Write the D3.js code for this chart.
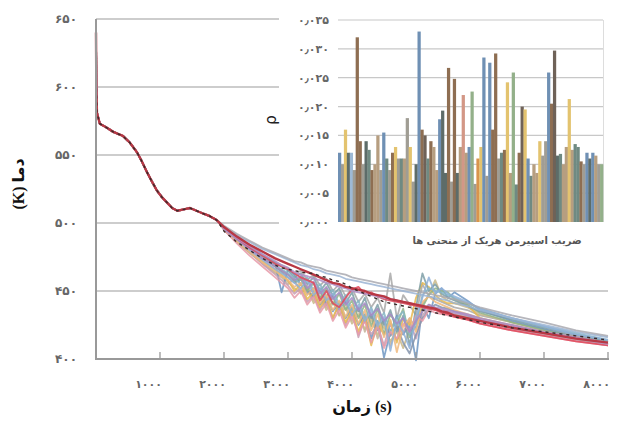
<!DOCTYPE html>
<html>
<head>
<meta charset="utf-8">
<script src="https://cdn.jsdelivr.net/npm/d3@7"></script>
<style>
  body { margin: 0; background: #fff; }
  svg { display: block; }
</style>
</head>
<body>
<div id="chart"></div>
<script>
// common part of all curves (s, K)
const headTime = [0, 5, 15, 60, 170, 270, 420, 530, 640, 720, 800, 880, 950, 1030, 1110, 1190, 1270, 1370, 1470, 1570, 1670, 1780, 1890];
const headTemp = [640, 600, 581, 573, 570, 567, 564, 559, 552, 545, 537, 530, 524, 519, 515, 511, 509, 510, 511, 509, 507, 505, 502];

// after 2000 s the curves split
const tailTime = [2000, 2200, 2400, 2600, 2800, 2900, 3000, 3100, 3200, 3300, 3400, 3500, 3600, 3700, 3800, 3900,
  4000, 4100, 4200, 4300, 4400, 4500, 4600, 4700, 4800, 4900, 5000, 5100, 5200, 5300, 5400, 5500, 5600, 5800,
  6000, 6500, 7000, 7500, 8000];

const redMain    = [497, 490, 484, 479, 474, 472, 470, 468, 466, 464, 462, 460, 458, 456, 455, 453, 452, 451, 450, 448, 447, 446, 444, 443, 442, 441, 440, 439, 438, 437, 435, 434, 432, 430, 428, 423, 419, 415, 412];
const dashedRef  = [494, 486, 480, 474, 469, 467, 466, 465, 464, 463, 463, 461, 460, 458, 457, 455, 452, 450, 448, 446, 444, 442, 441, 440, 439, 438, 437, 436, 435, 434, 433, 432, 431, 429, 427, 423, 420, 417, 414];
const grayUpper  = [498, 492, 487, 482, 478, 476, 474, 472, 471, 469, 468, 467, 465, 464, 463, 462, 460, 459, 458, 457, 456, 455, 454, 453, 452, 451, 450, 449, 448, 447, 446, 445, 444, 441, 438, 432, 427, 421, 417];
const blueUpper  = [497, 491, 486, 481, 477, 475, 473, 471, 469, 468, 466, 465, 463, 462, 461, 459, 458, 457, 456, 455, 454, 453, 452, 451, 450, 449, 448, 447, 446, 445, 444, 443, 441, 439, 436, 430, 425, 420, 416];
const purpleMid  = [496, 489, 483, 477, 472, 469, 467, 464, 462, 461, 459, 458, 456, 455, 453, 452, 450, 449, 448, 447, 446, 445, 444, 443, 442, 441, 440, 439, 438, 437, 436, 435, 434, 432, 429, 424, 419, 415, 411];
const blueNoisy  = [496, 488, 481, 474, 470, 449, 466, 462, 455, 448, 452, 440, 446, 435, 442, 430, 438, 425, 433, 415, 428, 401, 420, 432, 418, 425, 399, 440, 430, 448, 452, 445, 449, 443, 436, 428, 422, 416, 411];
const yellowNoisy= [496, 487, 480, 472, 466, 462, 458, 450, 455, 444, 449, 438, 445, 430, 441, 427, 436, 420, 432, 410, 426, 418, 428, 412, 430, 425, 445, 456, 453, 447, 443, 441, 441, 440, 430, 424, 419, 415, 411];
const tanNoisy   = [495, 486, 478, 470, 463, 460, 455, 459, 448, 454, 443, 450, 438, 446, 432, 441, 428, 437, 420, 432, 415, 428, 410, 425, 418, 430, 422, 435, 440, 437, 436, 435, 433, 431, 428, 423, 418, 414, 410];
const greenNoisy = [496, 489, 482, 475, 468, 465, 462, 457, 460, 450, 456, 445, 452, 440, 448, 436, 443, 430, 440, 424, 437, 418, 433, 425, 437, 416, 430, 438, 447, 452, 450, 449, 444, 440, 434, 427, 421, 416, 412];
const tealNoisy  = [497, 490, 483, 477, 471, 468, 465, 460, 463, 455, 460, 450, 456, 447, 452, 441, 449, 435, 445, 430, 440, 425, 436, 420, 432, 410, 438, 463, 450, 455, 448, 445, 443, 439, 435, 429, 423, 418, 413];
const redWiggly  = [497, 489, 482, 476, 470, 468, 466, 463, 460, 458, 456, 443, 450, 441, 438, 445, 451, 453, 448, 449, 446, 444, 443, 442, 441, 440, 439, 438, 437, 436, 434, 433, 431, 429, 426, 421, 417, 413, 410];
const pinkNoisy  = [495, 485, 476, 468, 460, 456, 452, 445, 450, 440, 446, 434, 441, 428, 436, 423, 432, 418, 428, 412, 424, 408, 420, 415, 426, 420, 432, 428, 436, 434, 433, 432, 431, 429, 426, 421, 417, 413, 410];
const orangeNoisy= [496, 487, 479, 471, 465, 461, 458, 453, 456, 447, 452, 441, 447, 436, 443, 431, 440, 426, 436, 421, 433, 416, 429, 405, 424, 430, 420, 442, 446, 442, 440, 438, 436, 433, 430, 425, 420, 416, 412];
const skyNoisy   = [496, 488, 480, 473, 466, 463, 460, 456, 452, 458, 447, 452, 443, 448, 437, 444, 432, 440, 428, 436, 424, 431, 406, 428, 420, 408, 430, 445, 460, 448, 452, 448, 446, 442, 437, 430, 424, 418, 414];
const lilacNoisy = [496, 488, 481, 474, 468, 465, 462, 458, 461, 452, 457, 448, 453, 444, 449, 440, 445, 436, 441, 432, 437, 428, 433, 426, 430, 420, 428, 435, 440, 438, 437, 436, 435, 433, 430, 425, 420, 416, 412];
const grayNoisy  = [496, 489, 482, 476, 471, 469, 467, 462, 465, 458, 462, 454, 459, 450, 455, 446, 452, 442, 448, 438, 445, 434, 463, 430, 447, 440, 432, 455, 446, 444, 442, 440, 438, 436, 432, 427, 422, 417, 413];
const mauveNoisy = [496, 487, 479, 470, 462, 458, 454, 448, 452, 442, 447, 436, 444, 430, 440, 425, 436, 416, 430, 418, 425, 410, 426, 414, 420, 428, 415, 432, 438, 436, 435, 434, 432, 430, 427, 422, 418, 414, 410];
const cyanNoisy  = [497, 489, 482, 475, 469, 466, 463, 459, 455, 460, 450, 455, 446, 451, 440, 447, 436, 443, 430, 438, 426, 434, 420, 430, 435, 418, 424, 447, 452, 450, 449, 447, 445, 441, 437, 430, 424, 419, 414];
const khakiNoisy = [495, 486, 478, 471, 464, 461, 457, 452, 449, 452, 441, 446, 436, 442, 432, 438, 426, 433, 422, 429, 418, 424, 413, 420, 408, 422, 426, 440, 447, 458, 446, 443, 441, 438, 433, 427, 421, 416, 412];
const slateNoisy = [496, 488, 481, 474, 468, 464, 460, 456, 459, 450, 446, 452, 440, 447, 436, 443, 432, 438, 427, 433, 421, 429, 417, 424, 412, 404, 418, 430, 436, 440, 438, 437, 435, 432, 429, 424, 419, 415, 411];

const xTicks = [1000, 2000, 3000, 4000, 5000, 6000, 7000, 8000];
const yTicks = [400, 450, 500, 550, 600, 650];

// inset: Spearman coefficient of each curve
const rhoValues = [0.012, 0.010, 0.016, 0.012, 0.012, 0.009, 0.032, 0.014, 0.010, 0.014,
  0.0125, 0.009, 0.010, 0.015, 0.009, 0.0155, 0.011, 0.009, 0.012, 0.013,
  0.011, 0.011, 0.011, 0.018, 0.013, 0.007, 0.010, 0.033, 0.016, 0.015,
  0.011, 0.014, 0.013, 0.009, 0.0178, 0.0193, 0.0085, 0.0267, 0.007, 0.0248,
  0.0085, 0.013, 0.022, 0.012, 0.013, 0.0226, 0.0066, 0.011, 0.013, 0.0285,
  0.008, 0.0276, 0.016, 0.0292, 0.011, 0.012, 0.0125, 0.0242, 0.0085, 0.0259,
  0.0065, 0.012, 0.020, 0.0195, 0.011, 0.008, 0.010, 0.0085, 0.014, 0.0115,
  0.014, 0.0259, 0.0205, 0.0297, 0.0115, 0.0118, 0.010, 0.013, 0.0213, 0.0125,
  0.0135, 0.013, 0.0105, 0.010, 0.012, 0.011, 0.012, 0.0115, 0.010, 0.010];
const rhoTicks = [0, 0.005, 0.010, 0.015, 0.020, 0.025, 0.030, 0.035];
const barShade = "bgyslgnngsenttgbegnygetgygsbnkenttbssngnstptbrgoybgbnngenytrenkybettyggbnksettyteengbsbtgr";

const shades = {
  b: "#6f90b4", g: "#a09d94", y: "#e3c36f", s: "#5d6c69", l: "#9db9d6", n: "#8e6e52",
  t: "#b69e80", e: "#6f8a82", k: "#6f6258", p: "#d39786", r: "#93b08a", o: "#d9944c"
};

const fa = s => String(s).replace(/\d/g, d => "۰۱۲۳۴۵۶۷۸۹"[d]);

const W = 631, H = 432;
const svg = d3.select("#chart").append("svg").attr("width", W).attr("height", H);

// main scales
const x = d3.scaleLinear().domain([0, 8000]).range([96, 608]);
const y = d3.scaleLinear().domain([400, 650]).range([359, 19]);

// gridlines
svg.append("g").selectAll("line").data(yTicks.filter(v => v > 400)).join("line")
  .attr("x1", 96).attr("x2", 608)
  .attr("y1", d => y(d)).attr("y2", d => y(d))
  .attr("stroke", "#bdbdbd").attr("stroke-width", 1.3);

// y tick labels
svg.append("g").selectAll("text").data(yTicks).join("text")
  .attr("x", 77).attr("y", d => y(d) + 4)
  .attr("text-anchor", "end")
  .style("font", "bold 12px 'DejaVu Sans'").style("letter-spacing", "2.5px").style("fill", "#666")
  .text(d => fa(d));

// x tick labels
svg.append("g").selectAll("text").data(xTicks).join("text")
  .attr("x", d => x(d) + 2).attr("y", 388)
  .attr("text-anchor", "end")
  .style("font", "bold 11px 'DejaVu Sans'").style("letter-spacing", "1px").style("fill", "#666")
  .text(d => fa(d));

// curves
const series = [
  { v: tanNoisy, c: "#c4b39a" }, { v: grayNoisy, c: "#a8a8a8" }, { v: khakiNoisy, c: "#c9b98a" },
  { v: blueNoisy, c: "#6f96c2" }, { v: mauveNoisy, c: "#c79fb4" }, { v: slateNoisy, c: "#8494ac" },
  { v: yellowNoisy, c: "#e8b84e" }, { v: greenNoisy, c: "#8fb386" }, { v: tealNoisy, c: "#7c9ea6" },
  { v: cyanNoisy, c: "#86b6c6" }, { v: pinkNoisy, c: "#e69aa8" }, { v: orangeNoisy, c: "#f0b97c" },
  { v: skyNoisy, c: "#8fb0d8" }, { v: lilacNoisy, c: "#a78bc7" }, { v: redWiggly, c: "#e0485a" },
  { v: purpleMid, c: "#b08fc8" }, { v: blueUpper, c: "#9bb4d4" }, { v: grayUpper, c: "#a9a9b0" }
];

const line = d3.line().x(d => x(d[0])).y(d => y(d[1]));
const full = vals => headTime.map((t, i) => [t, headTemp[i]]).concat(tailTime.map((t, i) => [t, vals[i]]));

const lines = svg.append("g").attr("fill", "none").attr("stroke-linejoin", "round");
series.forEach(s => {
  lines.append("path").attr("d", line(full(s.v)))
    .attr("stroke", s.c).attr("stroke-width", 1.8).attr("opacity", 0.85);
});
lines.append("path").attr("d", line(full(redMain)))
  .attr("stroke", "#b83844").attr("stroke-width", 2.4);
lines.append("path").attr("d", line(full(dashedRef)))
  .attr("stroke", "#3a2a2a").attr("stroke-width", 1.4).attr("stroke-dasharray", "3,4");

// axes lines
svg.append("line").attr("x1", 96).attr("x2", 96).attr("y1", 19).attr("y2", 359)
  .attr("stroke", "#999").attr("stroke-width", 2);
svg.append("line").attr("x1", 95).attr("x2", 609).attr("y1", 359).attr("y2", 359)
  .attr("stroke", "#999").attr("stroke-width", 2);
svg.append("g").selectAll("line").data(xTicks).join("line")
  .attr("x1", d => x(d)).attr("x2", d => x(d)).attr("y1", 352).attr("y2", 359)
  .attr("stroke", "#999").attr("stroke-width", 1.3);

// axis titles
svg.append("text").attr("x", 362).attr("y", 412).attr("text-anchor", "middle")
  .style("font", "bold 16px 'Liberation Serif', 'DejaVu Sans'").style("fill", "#111")
  .text("زمان (s)");
svg.append("text").attr("transform", "translate(24,184) rotate(-90)").attr("text-anchor", "middle")
  .style("font", "bold 16px 'Liberation Serif', 'DejaVu Sans'").style("fill", "#111")
  .text("(K) دما");

// ---- inset ----
svg.append("rect").attr("x", 279).attr("y", 0).attr("width", 352).attr("height", 249).attr("fill", "#fff");

const ix = d3.scaleBand().domain(d3.range(rhoValues.length)).range([338, 603]).padding(0);
const iy = d3.scaleLinear().domain([0, 0.035]).range([222, 20]);

svg.append("g").selectAll("line").data(rhoTicks.filter(v => v > 0)).join("line")
  .attr("x1", 338).attr("x2", 603)
  .attr("y1", d => iy(d)).attr("y2", d => iy(d))
  .attr("stroke", "#c8c8c8").attr("stroke-width", 1.2);
svg.append("line").attr("x1", 603.5).attr("x2", 603.5).attr("y1", 20).attr("y2", 222)
  .attr("stroke", "#ddd");

svg.append("g").selectAll("rect").data(rhoValues).join("rect")
  .attr("x", (d, i) => ix(i)).attr("width", ix.bandwidth() + 0.3)
  .attr("y", d => iy(d)).attr("height", d => iy(0) - iy(d))
  .attr("fill", (d, i) => shades[barShade[i]]);

svg.append("g").selectAll("text").data(rhoTicks).join("text")
  .attr("x", 329).attr("y", d => iy(d) + 4)
  .attr("text-anchor", "end")
  .style("font", "bold 11px 'DejaVu Sans'").style("fill", "#666")
  .text(d => fa(d.toFixed(3)).replace(".", "٫"));

svg.append("text").attr("transform", "translate(276,120) rotate(-90)").attr("text-anchor", "middle")
  .style("font", "15px 'DejaVu Sans'").style("fill", "#222")
  .text("ρ");

svg.append("text").attr("x", 497).attr("y", 244).attr("text-anchor", "middle")
  .style("font", "bold 10px 'DejaVu Sans'").style("fill", "#555")
  .text("ضریب اسپیرمن هریک از منحنی ها");
</script>
</body>
</html>
